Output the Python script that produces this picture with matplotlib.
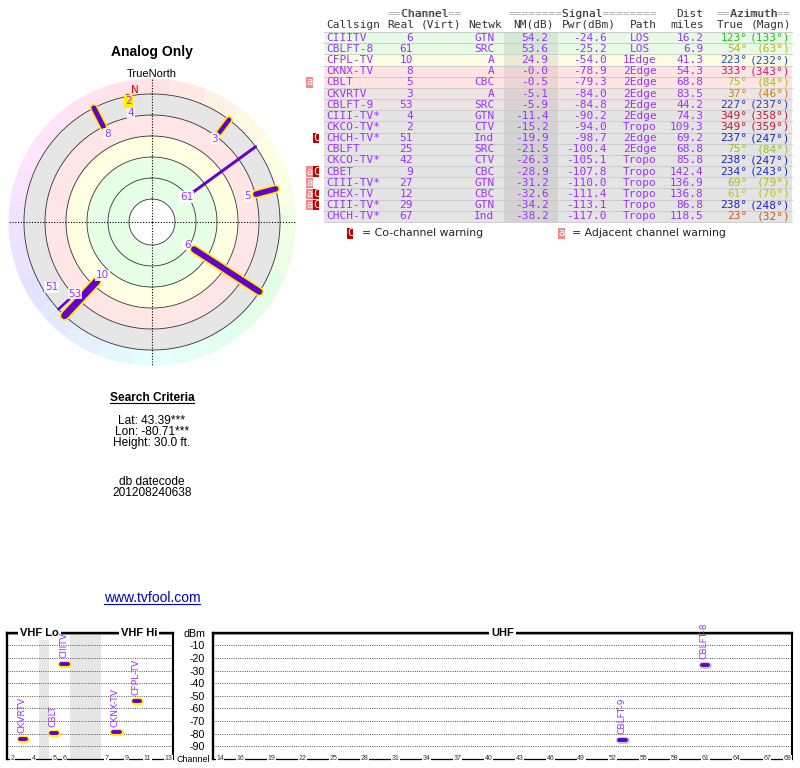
import colorsys
import numpy as np
import matplotlib
matplotlib.use('Agg')
import matplotlib.pyplot as plt
from matplotlib.patches import Rectangle
from matplotlib.lines import Line2D

# stations, in the order of the listing
callsign = ['CIIITV', 'CBLFT-8', 'CFPL-TV', 'CKNX-TV', 'CBLT', 'CKVRTV', 'CBLFT-9',
            'CIII-TV*', 'CKCO-TV*', 'CHCH-TV*', 'CBLFT', 'CKCO-TV*', 'CBET',
            'CIII-TV*', 'CHEX-TV', 'CIII-TV*', 'CHCH-TV*']
real_ch = [6, 61, 10, 8, 5, 3, 53, 4, 2, 51, 25, 42, 9, 27, 12, 29, 67]
netwk = ['GTN', 'SRC', 'A', 'A', 'CBC', 'A', 'SRC', 'GTN', 'CTV', 'Ind', 'SRC',
         'CTV', 'CBC', 'GTN', 'CBC', 'GTN', 'Ind']
nm_db = [54.2, 53.6, 24.9, -0.0, -0.5, -5.1, -5.9, -11.4, -15.2, -19.9, -21.5,
         -26.3, -28.9, -31.2, -32.6, -34.2, -38.2]
pwr_dbm = [-24.6, -25.2, -54.0, -78.9, -79.3, -84.0, -84.8, -90.2, -94.0, -98.7,
           -100.4, -105.1, -107.8, -110.0, -111.4, -113.1, -117.0]
path = ['LOS', 'LOS', '1Edge', '2Edge', '2Edge', '2Edge', '2Edge', '2Edge', 'Tropo',
        '2Edge', '2Edge', 'Tropo', 'Tropo', 'Tropo', 'Tropo', 'Tropo', 'Tropo']
dist_mi = [16.2, 6.9, 41.3, 54.3, 68.8, 83.5, 44.2, 74.3, 109.3, 69.2, 68.8, 85.8,
           142.4, 136.9, 136.8, 86.8, 118.5]
az_true = [123, 54, 223, 333, 75, 37, 227, 349, 349, 237, 75, 238, 234, 69, 61, 238, 23]
az_magn = [133, 63, 232, 343, 84, 46, 237, 358, 359, 247, 84, 247, 243, 79, 70, 248, 32]
warning = ['', '', '', '', 'a', '', '', '', '', 'C', '', '', 'aC', 'a', 'aC', 'aC', '']

# compass plot: noise margin rings (dB), magnetic north (true deg)
ring_levels = [80, 60, 40, 20, 0, -20]
band_colors = ['#e6ffe6', '#e6ffe6', '#ffffe2', '#ffe6e6', '#e6e6e6']
mag_north = 350

# channel strips
vhf_layout = [2, 3, 4, 0, 5, 6, 0, 0, 0, 7, 8, 9, 10, 11, 12, 13]  # 0 = gap
vhf_ticks = [2, 4, 5, 6, 7, 9, 11, 13]
uhf_ticks = [14, 16, 19, 22, 25, 28, 31, 34, 37, 40, 43, 46, 49, 52, 55, 58, 61, 64, 67, 69]
dbm_ticks = [0, -10, -20, -30, -40, -50, -60, -70, -80, -90]

plt.rcParams['font.family'] = ['Liberation Sans', 'DejaVu Sans']

W, H = 800, 768
LINE = '#6600cc'
TXT = '#9933ff'


def fx(x):
    return x / W


def fy(y):
    return 1 - y / H


def az_color(a):
    return colorsys.hsv_to_rgb(a / 360.0, 0.85, 0.76)


fig = plt.figure(figsize=(8, 7.68), dpi=100)

# ---------------- compass plot ----------------
R0, R1 = 101.9, -35.2
ax = fig.add_axes([fx(8), fy(366), 288 / W, 288 / H], projection='polar')
ax.set_theta_zero_location('N')
ax.set_theta_direction(-1)
ax.set_ylim(R0, R1)
ax.set_facecolor('none')
ax.grid(False)
ax.set_xticks([])
ax.set_yticks([])
ax.spines['polar'].set_visible(False)

for k in range(24):
    t = np.radians(np.linspace(k * 15 - 7.5, k * 15 + 7.5, 10))
    c = colorsys.hsv_to_rgb((k * 15 % 360) / 360.0, 0.11, 1.0)
    ax.fill_between(t, ring_levels[-1], R1, color=c, lw=0, zorder=1)

th = np.linspace(0, 2 * np.pi, 361)
for hi, lo, c in zip(ring_levels[:-1], ring_levels[1:], band_colors):
    ax.fill_between(th, lo, hi, color=c, lw=0, zorder=1)
for lev in ring_levels:
    ax.plot(th, np.full_like(th, lev), color='#333333', lw=0.6, zorder=2)
for a in (0, 90, 180, 270):
    ax.plot([np.radians(a)] * 2, [R0, R1], color='black', lw=0.8,
            ls=(0, (1, 1.5)), zorder=2)

line_px = {6: 6, 10: 7, 8: 5, 5: 5.5, 3: 4.5, 4: 4, 2: 4, 61: 3, 53: 2.5, 51: 2.5}
label_shift = {2: 0.0}
for i in range(len(callsign)):
    if nm_db[i] <= ring_levels[-1]:
        continue
    ch, a = real_ch[i], np.radians(az_true[i])
    w = line_px.get(ch, 2.5) * 0.72
    if ch <= 13:
        ax.plot([a, a], [nm_db[i], ring_levels[-1]], color='#ffee00', lw=w + 2.4,
                solid_capstyle='round', zorder=3)
    ax.plot([a, a], [nm_db[i], ring_levels[-1]], color=LINE, lw=w,
            solid_capstyle='round', zorder=4)
for i in range(len(callsign)):
    if nm_db[i] <= ring_levels[-1]:
        continue
    ch = real_ch[i]
    sh = label_shift.get(ch, 7.8)
    if sh:
        bb = dict(fc='white', ec='none', pad=0.4, alpha=0.85)
    else:
        bb = dict(boxstyle='round,pad=0.12', fc='#ffee00', ec='none')
    ax.text(np.radians(az_true[i]), nm_db[i] + sh, str(ch), color=TXT,
            family='DejaVu Sans', fontsize=7.5, ha='center', va='center',
            bbox=bb, zorder=6, clip_on=False)
ax.text(np.radians(mag_north + 2.5), -24.5, 'N', color='#ee0000', family='DejaVu Sans',
        fontsize=7.5, ha='center', va='center', zorder=6)

fig.text(fx(152), fy(51.7), 'Analog Only', ha='center', va='center',
         fontsize=10, fontweight='bold')
fig.text(fx(152), fy(74.3), 'TrueNorth', ha='center', va='center', fontsize=8)

# ---------------- search criteria ----------------
t_search = fig.text(fx(152), fy(398.3), 'Search Criteria', ha='center', va='center',
                    fontsize=8.6, fontweight='bold')
for txt, y in [('Lat: 43.39***', 420.7), ('Lon: -80.71***', 431.7),
               ('Height: 30.0 ft.', 443.3), ('db datecode', 481.7),
               ('201208240638', 493.3)]:
    fig.text(fx(152), fy(y), txt, ha='center', va='center', fontsize=8.6)
t_link = fig.text(fx(152), fy(598.3), 'www.tvfool.com', ha='center', va='center',
                  fontsize=10, color='#0000cc')

# ---------------- table ----------------
tab = fig.add_axes([fx(300), fy(245), 500 / W, 245 / H])
tab.set_xlim(300, 800)
tab.set_ylim(18.575, -3.378)
tab.axis('off')
mono = dict(family='DejaVu Sans Mono', fontsize=8, va='center')


def row_color(nm):
    if nm >= 40:
        return '#e6fae6'
    if nm >= 20:
        return '#fcfce2'
    if nm >= -1:
        return '#ffe4e4'
    t = min((-1 - nm) / 7.0, 1.0)
    pink, gray = np.array([255, 228, 228]), np.array([228, 228, 228])
    return tuple((pink + (gray - pink) * t) / 255)


n = len(callsign)
for i in range(n):
    tab.add_patch(Rectangle((324, i - 0.5), 467.7, 1.0, fc=row_color(nm_db[i]),
                            ec='none', zorder=1))
tab.add_patch(Rectangle((504, -0.5), 53.7, n, fc='black', alpha=0.07, ec='none', zorder=2))
for i in range(n + 1):
    tab.plot([324, 791.7], [i - 0.5, i - 0.5], color='#c8c8c8', lw=0.6, zorder=2)

for i in range(n):
    tab.text(326, i, callsign[i], color=TXT, ha='left', **mono)
    tab.text(413, i, str(real_ch[i]), color=TXT, ha='right', **mono)
    tab.text(494.5, i, netwk[i], color=TXT, ha='right', **mono)
    tab.text(548.5, i, f'{nm_db[i]:.1f}', color=TXT, ha='right', **mono)
    tab.text(607, i, f'{pwr_dbm[i]:.1f}', color=TXT, ha='right', **mono)
    tab.text(640, i, path[i], color=TXT, ha='center', **mono)
    tab.text(703.5, i, f'{dist_mi[i]:.1f}', color=TXT, ha='right', **mono)
    c = az_color(az_true[i])
    tab.text(747.5, i, f'{az_true[i]}°', color=c, ha='right', **mono)
    tab.text(790, i, f'({az_magn[i]}°)', color=c, ha='right', **mono)
    for j, flag in enumerate(warning[i][::-1]):
        x0 = 312.7 if flag == 'C' else 306.2
        fc = '#c40000' if flag == 'C' else '#f28a8a'
        tab.add_patch(Rectangle((x0, i - 0.47), 6.6, 0.94, fc=fc, ec='none', zorder=3))
        tab.text(x0 + 3.3, i, flag, color='white', family='DejaVu Sans Mono',
                 fontsize=7.5, ha='center', va='center', zorder=4)

head = '#333333'
for txt, x in [('Callsign', 326), ('Real', 387.7), ('(Virt)', 420.7), ('Netwk', 468.3),
               ('NM(dB)', 513.3), ('Pwr(dBm)', 561.7), ('Path', 630), ('miles', 670),
               ('True', 716.7), ('(Magn)', 750.7)]:
    tab.text(x, -1.14, txt, color=head, ha='left', **mono)
for full, word, x in [('==Channel==', '  Channel  ', 387.7),
                      ('========Signal========', '        Signal        ', 508.3),
                      ('==Azimuth==', '  Azimuth  ', 716.7)]:
    tab.text(x, -2.1, full, color='#aaaaaa', ha='left', **mono)
    tab.text(x, -2.1, word, color=head, ha='left', **mono)
tab.text(703.5, -2.1, 'Dist', color=head, ha='right', **mono)

ly = 17.53
for x0, fc, flag, label, tx in [(346.7, '#c40000', 'C', '= Co-channel warning', 361.7),
                                (558.3, '#f28a8a', 'a', '= Adjacent channel warning', 571.7)]:
    tab.add_patch(Rectangle((x0, ly - 0.47), 6.6, 0.94, fc=fc, ec='none', zorder=3))
    tab.text(x0 + 3.3, ly, flag, color='white', family='DejaVu Sans Mono',
             fontsize=7.5, ha='center', va='center', zorder=4)
    tab.text(tx, ly, label, family='DejaVu Sans', fontsize=7.8, ha='left',
             va='center', color='#222222')

# ---------------- channel strips ----------------
def strip(pos, xlim):
    a = fig.add_axes(pos)
    a.set_xlim(*xlim)
    a.set_ylim(-100, 0)
    a.set_xticks([])
    for y in dbm_ticks[1:]:
        a.axhline(y, color='#555555', lw=0.7, ls=(0, (1, 1.3)), zorder=1)
    a.axhline(-1.4, color='#b0b0b0', lw=0.8, zorder=1)
    a.spines['left'].set_linewidth(1.7)
    a.spines['top'].set_linewidth(1.7)
    a.spines['right'].set_linewidth(1.5)
    a.spines['bottom'].set_linewidth(0.9)
    return a


def tick_label(a, x, s):
    a.text(x, -100, s, ha='center', va='center', fontsize=5, color='#333333',
           bbox=dict(fc='white', ec='none', pad=0.4), clip_on=False, zorder=5)


def title(a, fx_, s):
    a.text(fx_, 1.0, s, transform=a.transAxes, ha='center', va='center',
           fontsize=8, fontweight='bold', bbox=dict(fc='white', ec='none', pad=1.5),
           zorder=5)


def marker(a, x, p, edge):
    a.plot([x - 0.3, x + 0.3], [p, p], color=edge, lw=5.0,
           solid_capstyle='round', zorder=3)
    a.plot([x - 0.3, x + 0.3], [p, p], color=LINE, lw=2.8,
           solid_capstyle='round', zorder=4)


bot, top = 759, 632.7
vhf = strip([fx(6.7), fy(bot), (173.3 - 6.7) / W, (bot - top) / H], (-0.58, 15.48))
vhf.set_yticks([])
for k, ch in enumerate(vhf_layout):
    if ch == 0:
        vhf.axvspan(k - 0.5, k + 0.5, color='#e6e6e6', lw=0, zorder=0)
for ch in vhf_ticks:
    tick_label(vhf, vhf_layout.index(ch), str(ch))
title(vhf, 0.195, 'VHF Lo')
title(vhf, 0.794, 'VHF Hi')

uhf = strip([fx(213.3), fy(bot), (791.7 - 213.3) / W, (bot - top) / H], (13.35, 69.39))
uhf.set_yticks(dbm_ticks)
uhf.set_yticklabels(['dBm'] + [str(v) for v in dbm_ticks[1:]])
uhf.tick_params(axis='y', length=0, pad=6, labelsize=7.7)
for ch in uhf_ticks:
    tick_label(uhf, ch, str(ch))
title(uhf, 0.5, 'UHF')
fig.text(fx(193.5), fy(759), 'Channel', ha='center', va='center', fontsize=6.4)

for i in range(n):
    if nm_db[i] <= -10:
        continue
    ch = real_ch[i]
    if ch <= 13:
        a, x, edge = vhf, vhf_layout.index(ch), '#ffee00'
    else:
        a, x, edge = uhf, ch, '#c8c8c8'
    marker(a, x, pwr_dbm[i], edge)
    a.text(x - 0.1, pwr_dbm[i] + 4.5, callsign[i], rotation=90, ha='center', va='bottom',
           color=TXT, family='DejaVu Sans', fontsize=6.6, clip_on=False, zorder=5)

# underline the heading and the link
fig.canvas.draw()
rend = fig.canvas.get_renderer()
for t, col in ((t_search, 'black'), (t_link, '#0000cc')):
    bb = t.get_window_extent(rend).transformed(fig.transFigure.inverted())
    fig.add_artist(Line2D([bb.x0, bb.x1], [bb.y0 + 1.5 / H] * 2,
                          transform=fig.transFigure, color=col, lw=0.8))

fig.savefig('out.png', dpi=100)
